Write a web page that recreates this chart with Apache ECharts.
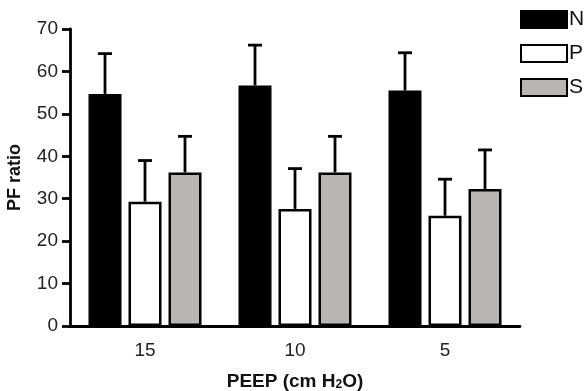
<!DOCTYPE html>
<html>
<head>
<meta charset="utf-8">
<script src="https://cdn.jsdelivr.net/npm/echarts@6/dist/echarts.min.js"></script>
<style>html,body{margin:0;padding:0;background:#fff;}#c{width:587px;height:391px;}</style>
</head>
<body>
<div id="c"></div>
<script>
var categories = ['15', '10', '5'];
var seriesNames = ['N', 'P', 'S'];
var meanN = [54.7, 56.7, 55.5];
var meanP = [29.3, 27.6, 26.0];
var meanS = [36.2, 36.2, 32.3];
var errTopN = [64.2, 66.2, 64.4];
var errTopP = [39.0, 37.1, 34.6];
var errTopS = [44.7, 44.7, 41.5];
var yTicks = [0, 10, 20, 30, 40, 50, 60, 70];

var colors = ['#000000', '#ffffff', '#b9b5b2'];
var BAR_W = 33, GAP = 7;
var FONT = 'Liberation Sans, Arial, sans-serif';

var chart = echarts.init(document.getElementById('c'), null, {renderer: 'canvas'});
var means = [meanN, meanP, meanS];
var tops = [errTopN, errTopP, errTopS];

var series = [];
seriesNames.forEach(function (name, i) {
  series.push({
    name: name,
    type: 'bar',
    data: means[i],
    barWidth: BAR_W,
    barGap: (GAP / BAR_W * 100) + '%',
    itemStyle: {color: colors[i], borderColor: '#000', borderWidth: 2.5},
    emphasis: {disabled: true}
  });
});
seriesNames.forEach(function (name, i) {
  var data = categories.map(function (c, k) { return [k, means[i][k], tops[i][k]]; });
  series.push({
    name: name + '_err',
    type: 'custom',
    data: data,
    z: 1,
    renderItem: function (params, api) {
      var base = api.coord([api.value(0), api.value(1)]);
      var top = api.coord([api.value(0), api.value(2)]);
      var off = (i - 1) * (BAR_W + GAP);
      var x = base[0] + off;
      return {
        type: 'group',
        children: [
          {type: 'line', shape: {x1: x, y1: base[1], x2: x, y2: top[1]}, style: {stroke: '#000', lineWidth: 2.8}},
          {type: 'line', shape: {x1: x - 7, y1: top[1], x2: x + 7, y2: top[1]}, style: {stroke: '#000', lineWidth: 2.8}}
        ]
      };
    }
  });
});

chart.setOption({
  animation: false,
  backgroundColor: '#fff',
  grid: {left: 70, right: 67, top: 29, bottom: 65, containLabel: false, outerBoundsMode: 'none'},
  legend: {
    data: seriesNames,
    orient: 'vertical',
    left: 515,
    top: 4,
    itemWidth: 46,
    itemHeight: 17,
    itemGap: 13,
    icon: 'rect',
    textStyle: {fontFamily: FONT, fontSize: 21, color: '#111', padding: [0, 0, 0, -3]}
  },
  xAxis: {
    type: 'category',
    data: categories,
    name: '{b|PEEP (cm H}{s|2}{b|O)}',
    nameLocation: 'middle',
    nameGap: 46,
    nameTextStyle: {
      rich: {
        b: {fontFamily: FONT, fontSize: 19, fontWeight: 'bold', color: '#111'},
        s: {fontFamily: FONT, fontSize: 12, fontWeight: 'bold', color: '#111', verticalAlign: 'bottom', padding: [7, 0, 0, 0]}
      }
    },
    axisLine: {lineStyle: {color: '#000', width: 2.8}},
    axisTick: {alignWithLabel: true, length: 8, lineStyle: {color: '#000', width: 2.8}},
    axisLabel: {fontFamily: FONT, fontSize: 19, color: '#222', margin: 15}
  },
  yAxis: {
    type: 'value',
    min: 0,
    max: 70,
    interval: 10,
    name: 'PF ratio',
    nameLocation: 'middle',
    nameGap: 46,
    nameTextStyle: {fontFamily: FONT, fontSize: 18, fontWeight: 'bold', color: '#111'},
    axisLine: {show: true, lineStyle: {color: '#000', width: 2.8}},
    axisTick: {show: true, length: 8, lineStyle: {color: '#000', width: 2.8}},
    splitLine: {show: false},
    axisLabel: {fontFamily: FONT, fontSize: 19, color: '#222', margin: 12,
      formatter: function (v) { return yTicks.indexOf(v) >= 0 ? String(v) : ''; }}
  },
  series: series
});
</script>
</body>
</html>
